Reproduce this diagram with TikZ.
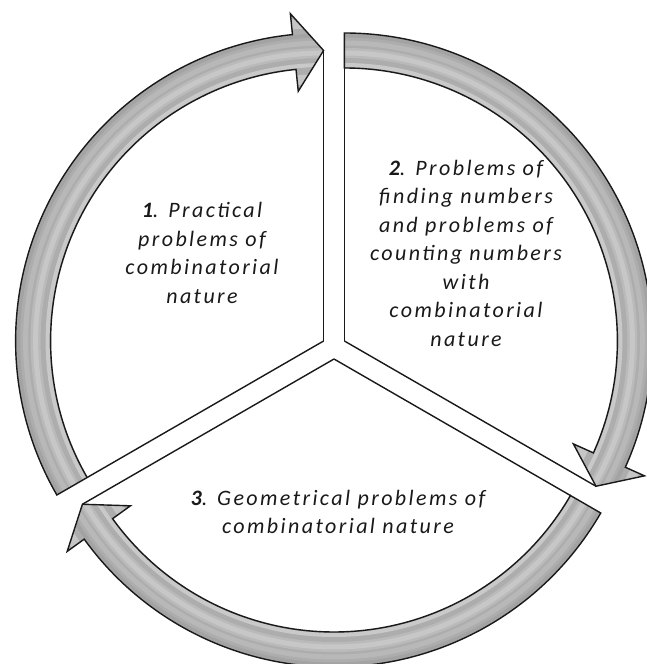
\documentclass[tikz,border=0pt]{standalone}
\usepackage{fontspec}
\setmainfont{Carlito}[LetterSpace=11]
\begin{document}
\begin{tikzpicture}[x=1pt,y=1pt,
  outline/.style={draw=black!90, line width=1.4pt, line join=miter},
  lbl/.style={align=center, inner sep=0pt, text=black!90,
    font=\itshape\fontsize{22}{28.5}\selectfont}]
\useasboundingbox (0,0) rectangle (647,664);
\clip (0,0) rectangle (647,664);
\fill[white] (0,0) rectangle (647,664);
\foreach \cx/\cy/\a in {323.6/323/210, 344.4/323/90, 334/305/-30} {
  \begin{scope}[shift={(\cx,\cy)}]
    \pgfmathsetmacro\ab{\a-114.2}
    \pgfmathsetmacro\ac{\a-120}
    \begin{scope}
      \clip (\a:273) -- (\a:308) arc[start angle=\a, end angle=\ab, radius=308]
        -- (\ab:329) -- (\ac:290.5) -- (\ab:251) -- (\ab:273)
        arc[start angle=\ab, end angle=\a, radius=273] -- cycle;
      \fill[gray!64] (0,0) circle (340);
      \draw[gray!42, line width=4] (0,0) circle (276);
      \draw[gray!54, line width=10] (0,0) circle (288);
      \draw[gray!44, line width=5] (0,0) circle (288);
      \draw[gray!56, line width=5] (0,0) circle (298);
      \draw[gray!72, line width=4] (0,0) circle (305.5);
      \draw[gray!45, line width=10] (0,0) circle (262);
      \draw[gray!45, line width=10] (0,0) circle (318);
    \end{scope}
    \draw[outline] (\a:273) -- (\a:308) arc[start angle=\a, end angle=\ab, radius=308]
        -- (\ab:329) -- (\ac:290.5) -- (\ab:251) -- (\ab:273)
        arc[start angle=\ab, end angle=\a, radius=273] -- cycle;
    \draw[outline] (0,0) -- (\a:273);
    \draw[outline] (0,0) -- (\ac:290.5);
  \end{scope}
}
\node[lbl] (t1) at (202,411) {\textbf{1}. Practical\\problems of\\combinatorial\\nature};
\node[lbl] (t2) at (466,411) {\textbf{2}. Problems of\\finding numbers\\and problems of\\counting numbers\\with\\combinatorial\\nature};
\node[lbl] (t3) at (338,152) {\textbf{3}. Geometrical problems of\\combinatorial nature};
\end{tikzpicture}
\end{document}
